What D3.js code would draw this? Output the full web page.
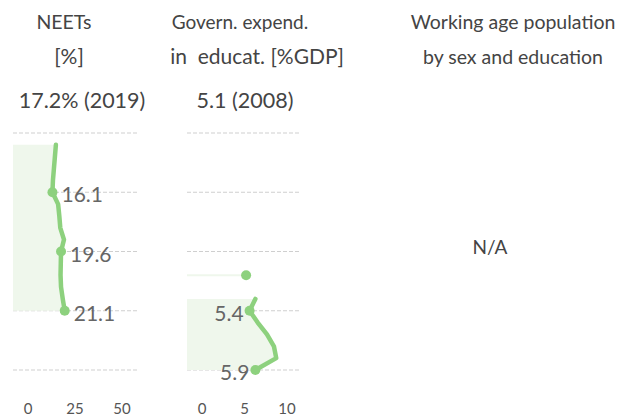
<!DOCTYPE html>
<html><head><meta charset="utf-8">
<script src="https://cdn.jsdelivr.net/npm/d3@7"></script>
<style>
html,body{margin:0;padding:0;background:#fff;}
svg{display:block;font-family:"Lato",sans-serif;}
text{white-space:pre;}
</style></head>
<body><svg id="c" width="630" height="418"></svg>
<script>
// ---- data ----
const gridYears = [2000, 2005, 2010, 2015, 2020];
const neetYears = [2005,2006,2007,2008,2009,2010,2011,2012,2013,2014,2015,2016,2017,2018,2019];
const neetValues = [21.1,20.3,19.6,19.4,19.5,19.6,20.8,19.3,18.9,18.4,16.1,16.3,16.7,17.1,17.5];
const neetLabelYears = [2005, 2010, 2015];
const govYears = [2000,2001,2002,2003,2004,2005,2006];
const govValues = [5.9,7.7,7.5,6.9,6.1,5.4,5.9];
const govLabelYears = [2000, 2005];
const govLatestYear = [2008];
const govLatestValue = [5.1];
const neetTicks = ["0","25","50"];
const govTicks = ["0","5","10"];
const titles1 = ["NEETs","[%]"];
const titles2 = ["Govern. expend.","in  educat. [%GDP]"];
const titles3 = ["Working age population","by sex and education"];
const header1 = "17.2% (2019)";
const header2 = "5.1 (2008)";
const naText = "N/A";

const svg = d3.select("#c");
const lineColor = "#8dd17e", areaColor = "#eff7ec", gridColor = "#cfcfcf";
const y = d3.scaleLinear().domain([2000, 2020]).range([370, 133]);

function panel(xs, years, vals, labelYears, labelSide, tickScale, ticks) {
  const g = svg.append("g");
  g.selectAll("line.grid").data(gridYears).join("line")
    .attr("x1", xs.range()[0]).attr("x2", xs.range()[1])
    .attr("y1", d => y(d)).attr("y2", d => y(d))
    .attr("stroke", gridColor).attr("stroke-width", 1).attr("stroke-dasharray", "4,2");
  const pts = years.map((yr, i) => ({yr, v: vals[i]}));
  const area = d3.area().y(d => y(d.yr)).x0(xs(0)).x1(d => xs(d.v));
  g.append("path").datum(pts).attr("d", area).attr("fill", areaColor);
  const line = d3.line().y(d => y(d.yr)).x(d => xs(d.v));
  g.append("path").datum(pts).attr("d", line).attr("fill", "none")
    .attr("stroke", lineColor).attr("stroke-width", 4.5).attr("stroke-linejoin", "round").attr("stroke-linecap", "round");
  const lp = pts.filter(d => labelYears.includes(d.yr));
  g.selectAll("text.lbl").data(lp).join("text")
    .attr("x", d => xs(d.v) + (labelSide > 0 ? 9 : -6))
    .attr("y", d => y(d.yr) + 10)
    .attr("text-anchor", labelSide > 0 ? "start" : "end")
    .attr("font-size", 21).attr("fill", "#666").text(d => d.v.toFixed(1));
  g.selectAll("circle.pt").data(lp).join("circle")
    .attr("cx", d => xs(d.v)).attr("cy", d => y(d.yr)).attr("r", 5).attr("fill", lineColor);
  g.selectAll("text.tick").data(ticks).join("text")
    .attr("x", d => tickScale(d)).attr("y", 414).attr("text-anchor", "middle")
    .attr("font-size", 15).attr("fill", "#555").text(d => d);
  return g;
}

const xNeet = d3.scaleLinear().domain([0, 50.6]).range([13, 137]);
const xGov = d3.scaleLinear().domain([0, 9.75]).range([187, 300]);
const tNeet = d3.scalePoint().domain(neetTicks).range([28, 122]);
const tGov = d3.scalePoint().domain(govTicks).range([202, 287]);

panel(xNeet, neetYears, neetValues, neetLabelYears, 1, tNeet, neetTicks);
const g2 = panel(xGov, govYears, govValues, govLabelYears, -1, tGov, govTicks);
g2.selectAll("line.iso").data(govLatestYear).join("line")
  .attr("x1", xGov(0)).attr("x2", (d, i) => xGov(govLatestValue[i]))
  .attr("y1", d => y(d)).attr("y2", d => y(d))
  .attr("stroke", areaColor).attr("stroke-width", 2);
g2.selectAll("circle.iso").data(govLatestYear).join("circle")
  .attr("cx", (d, i) => xGov(govLatestValue[i])).attr("cy", d => y(d)).attr("r", 5).attr("fill", lineColor);

function title(lines, cxs, sizes) {
  svg.append("g").selectAll("text").data(lines).join("text")
    .attr("x", (d, i) => cxs[i]).attr("y", (d, i) => 29 + i * 35).attr("text-anchor", "middle")
    .attr("font-size", (d, i) => sizes[i]).attr("fill", "#444").text(d => d);
}
title(titles1, [64, 69], [19.5, 21]);
title(titles2, [240, 257], [19, 21]);
title(titles3, [513, 513], [19.5, 19.5]);
svg.append("text").attr("x", 82).attr("y", 108).attr("text-anchor", "middle")
  .attr("font-size", 21.5).attr("fill", "#444").text(header1);
svg.append("text").attr("x", 245).attr("y", 108).attr("text-anchor", "middle")
  .attr("font-size", 21.5).attr("fill", "#444").text(header2);
svg.append("text").attr("x", 490).attr("y", 254).attr("text-anchor", "middle")
  .attr("font-size", 19).attr("fill", "#444").text(naText);
</script></body></html>
